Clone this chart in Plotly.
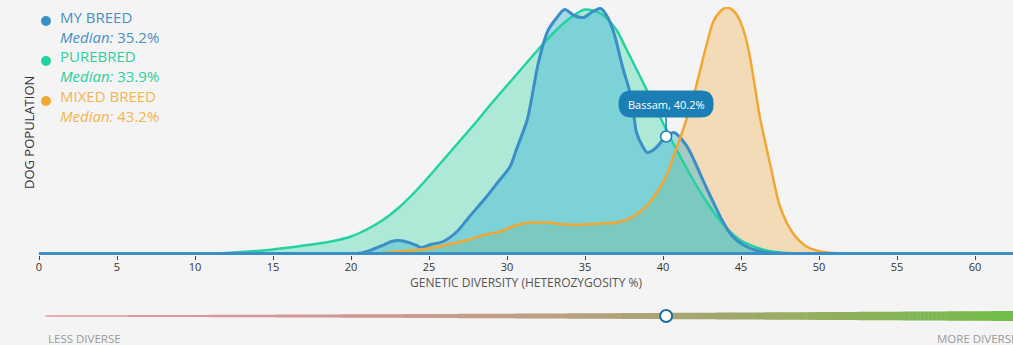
import numpy as np
import plotly.graph_objects as go

# ---------------- data ----------------
pure_x = [0, 10, 12, 15, 17, 18.7, 20, 21, 22, 23, 24, 25, 26, 27, 28, 29, 30, 31, 32, 33, 34,
          35, 36, 37, 37.6, 38.5, 39.2, 40.4, 41.7, 42.7, 43.7, 44.9, 46, 47, 48, 50, 62.44]
pure_y = [0, 0, 0.5, 4, 8, 12, 17, 24, 33, 45, 60, 77, 95, 113, 131, 150, 168, 186, 204, 221, 235,
          244, 240, 224, 206, 178, 156, 118, 80, 54, 32, 14, 6, 2, 0.5, 0, 0]

my_x = [0, 20.4, 21.2, 22.0, 22.6, 23.1, 23.7, 24.2, 24.5, 25.1, 25.9, 26.8, 27.6, 28.7, 29.4,
        30.2, 30.6, 31.3, 32.0, 32.6, 33.1, 33.7, 34.3, 34.9, 35.5, 36.0, 36.5, 36.9, 37.4, 38.0,
        38.3, 38.7, 39.0, 39.5, 40.2, 40.7, 41.5, 42.0, 42.6, 43.2, 43.8, 44.4, 45.1, 46.0, 47.0, 62.44]
my_y = [0, 0, 3, 8, 12, 13, 11, 8, 6, 9, 12, 22, 37, 57, 71,
        87, 104, 134, 190, 222, 234, 244, 238, 236, 242, 245, 235, 218, 187, 154,
        121, 107, 101, 105, 117, 121, 108, 93, 72, 52, 33, 18, 9, 3, 0.5, 0]

mixed_x = [0, 21.5, 23, 25, 26.5, 27.6, 28.6, 29.6, 30.5, 31.5, 32.5, 33.8, 35, 36, 37, 37.7,
           38.2, 38.7, 39.2, 39.6, 40.0, 40.3, 40.6, 40.9, 41.2, 41.5, 41.9, 42.3, 42.6, 42.9,
           43.2, 43.6, 44.1, 44.5, 44.9, 45.3, 45.6, 45.9, 46.2, 46.6, 46.9, 47.5, 48.3, 49.2,
           50.1, 51, 62.44]
mixed_y = [0, 0, 2, 5, 10, 14, 19, 22, 28, 31, 31, 29, 29, 30, 31, 34,
           38, 44, 52, 61, 71, 81, 94, 107, 120, 134, 154, 178, 197, 215,
           231, 241, 246, 243, 234, 216, 194, 166, 137, 108, 87, 47, 21, 7,
           2, 0.5, 0]

series_names = ["MY BREED", "PUREBRED", "MIXED BREED"]
medians = [35.2, 33.9, 43.2]
dog_name = "Bassam"
dog_value = 40.2
x_ticks = list(range(0, 61, 5))

# ---------------- style ----------------
BG = "#f4f4f4"
C_BLUE, C_GREEN, C_ORANGE = "#3b8fc6", "#22d3a0", "#f1a734"
TXT = ["#4a8fc2", "#2ecf9f", "#f2b452"]
FONT = "Open Sans"
W, H = 1013, 345
ML, MR, MT, MB = 39, 0, 7, 18
XMAX = 62.436
px_per_x = (W - ML - MR) / XMAX
paper_h = H - MT - MB
main_bottom_px = 255
y_lo, y_hi = -1.5, 246.5
SPL = dict(shape="spline", smoothing=0.8)

fig = go.Figure()

# fills (bottom to top): mixed, purebred, my breed
fills = [(mixed_x, mixed_y, "rgba(242,170,60,0.33)"),
         (pure_x, pure_y, "rgba(34,211,160,0.33)"),
         (my_x, my_y, "rgba(55,178,214,0.42)")]
for xs, ys, fc in fills:
    fig.add_trace(go.Scatter(x=xs, y=ys, mode="lines", fill="tozeroy", fillcolor=fc,
                             line=dict(width=0, color="rgba(0,0,0,0)", **SPL), hoverinfo="skip"))
# lines
for xs, ys, c, w in [(pure_x, pure_y, C_GREEN, 2.5), (my_x, my_y, C_BLUE, 3),
                     (mixed_x, mixed_y, C_ORANGE, 2.5)]:
    fig.add_trace(go.Scatter(x=xs, y=ys, mode="lines", line=dict(color=c, width=w, **SPL),
                             hoverinfo="skip"))
# baseline blue line across whole axis
fig.add_trace(go.Scatter(x=[0, XMAX], y=[0, 0], mode="lines",
                         line=dict(color=C_BLUE, width=3), hoverinfo="skip"))

# marker for the dog
dog_y = float(np.interp(dog_value, my_x, my_y))
tip_cy, tip_hh_px, tip_hw_px, r_px = 149.5, 13.5, 47.5, 13
fig.add_trace(go.Scatter(x=[dog_value, dog_value], y=[dog_y, tip_cy - tip_hh_px], mode="lines",
                         line=dict(color="#1b7fb6", width=1.5), hoverinfo="skip"))
fig.add_trace(go.Scatter(x=[dog_value], y=[dog_y], mode="markers",
                         marker=dict(size=11, color="white", line=dict(color="#1b7fb6", width=1.5)),
                         hoverinfo="skip"))

# tooltip pill
cx, cy = dog_value, tip_cy
hw, hh = tip_hw_px / px_per_x, tip_hh_px
rx, ry = r_px / px_per_x, r_px
path = (f"M {cx-hw+rx},{cy+hh} L {cx+hw-rx},{cy+hh} Q {cx+hw},{cy+hh} {cx+hw},{cy+hh-ry} "
        f"L {cx+hw},{cy-hh+ry} Q {cx+hw},{cy-hh} {cx+hw-rx},{cy-hh} "
        f"L {cx-hw+rx},{cy-hh} Q {cx-hw},{cy-hh} {cx-hw},{cy-hh+ry} "
        f"L {cx-hw},{cy+hh-ry} Q {cx-hw},{cy+hh} {cx-hw+rx},{cy+hh} Z")
fig.add_shape(type="path", path=path, xref="x", yref="y", fillcolor="#1b7fb6",
              line=dict(width=0), layer="above")
fig.add_annotation(x=cx, y=cy, xref="x", yref="y", text=f"{dog_name}, {dog_value}%",
                   showarrow=False, font=dict(color="white", size=11, family=FONT))

# gradient diversity wedge (polygons on x / y2)
stops = [(0.0, (232, 150, 165)), (0.25, (214, 148, 152)), (0.45, (196, 158, 136)),
         (0.64, (170, 163, 116)), (0.82, (144, 176, 92)), (1.0, (112, 190, 74))]
def grad_color(t):
    for (t0, c0), (t1, c1) in zip(stops[:-1], stops[1:]):
        if t <= t1:
            f = (t - t0) / (t1 - t0)
            return "rgb(%d,%d,%d)" % tuple(round(a + f * (b - a)) for a, b in zip(c0, c1))
    return "rgb(%d,%d,%d)" % stops[-1][1]

g0, g1 = 0.4, XMAX
y2_px_per_unit = 11.0
def half_t(xv):
    t = (xv - g0) / (g1 - g0)
    return (1.4 + 8.6 * t ** 1.3) / 2 / y2_px_per_unit
edges = np.linspace(g0, g1, 241)
for a, b in zip(edges[:-1], edges[1:]):
    bb = min(b + 0.03, g1)
    ha, hb = half_t(a), half_t(bb)
    col = grad_color(((a + b) / 2 - g0) / (g1 - g0))
    fig.add_shape(type="path", xref="x", yref="y2", layer="below",
                  path=f"M {a},{-ha} L {bb},{-hb} L {bb},{hb} L {a},{ha} Z",
                  fillcolor=col, line=dict(width=0))
fig.add_trace(go.Scatter(x=[dog_value], y=[0], mode="markers", xaxis="x", yaxis="y2",
                         marker=dict(size=12, color="white", line=dict(color="#1e6e9c", width=2)),
                         hoverinfo="skip"))

def py(px):  # pixel row -> paper y
    return (H - MB - px) / paper_h

def pxx(px):  # pixel column -> paper x
    return (px - ML) / (W - ML - MR)

# legend
rows = [(21, 27), (61, 66), (101, 106)]
colors_dot = [C_BLUE, C_GREEN, C_ORANGE]
for i, (dot_y, txt_y) in enumerate(rows):
    fig.add_shape(type="circle", xref="paper", yref="paper", xsizemode="pixel", ysizemode="pixel",
                  xanchor=pxx(46), yanchor=py(dot_y), x0=-5, x1=5, y0=-5, y1=5,
                  fillcolor=colors_dot[i], line=dict(width=0))
    fig.add_annotation(x=pxx(58), y=py(txt_y), xref="paper", yref="paper", xanchor="left",
                       yanchor="middle", align="left", showarrow=False,
                       text=f"{series_names[i]}<br><i>Median:</i> {medians[i]}%",
                       font=dict(size=15, color=TXT[i], family=FONT))

fig.add_annotation(x=pxx(18), y=py(133), xref="paper", yref="paper", textangle=-90,
                   showarrow=False, text="DOG POPULATION",
                   font=dict(size=13, color="#333", family=FONT))
fig.add_annotation(x=pxx(46), y=py(338), xref="paper", yref="paper", xanchor="left",
                   yanchor="middle", showarrow=False, text="LESS DIVERSE",
                   font=dict(size=11.5, color="#9a9a9a", family=FONT))
fig.add_annotation(x=pxx(935), y=py(338), xref="paper", yref="paper", xanchor="left",
                   yanchor="middle", showarrow=False, text="MORE DIVERSE",
                   font=dict(size=11.5, color="#9a9a9a", family=FONT))

fig.update_layout(
    width=W, height=H, margin=dict(l=ML, r=MR, t=MT, b=MB, autoexpand=False),
    paper_bgcolor=BG, plot_bgcolor=BG, showlegend=False,
    font=dict(family=FONT),
    xaxis=dict(range=[0, XMAX], tickvals=x_ticks, ticks="outside", ticklen=4, tickcolor="#444",
               showgrid=False, zeroline=False, showline=False, anchor="y", automargin=False,
               ticklabelstandoff=-2,
               tickfont=dict(size=11, color="#333"),
               title=dict(text="GENETIC DIVERSITY (HETEROZYGOSITY %)", standoff=1,
                          font=dict(size=12, color="#555"))),
    yaxis=dict(range=[y_lo, y_hi], domain=[py(main_bottom_px), 1], visible=False, anchor="x"),
    yaxis2=dict(range=[-1, 1], domain=[0, py(305)], visible=False, anchor="x"),
)

fig.write_html("out.html", config={"displayModeBar": False},
               post_script="document.body.style.margin='0';")
